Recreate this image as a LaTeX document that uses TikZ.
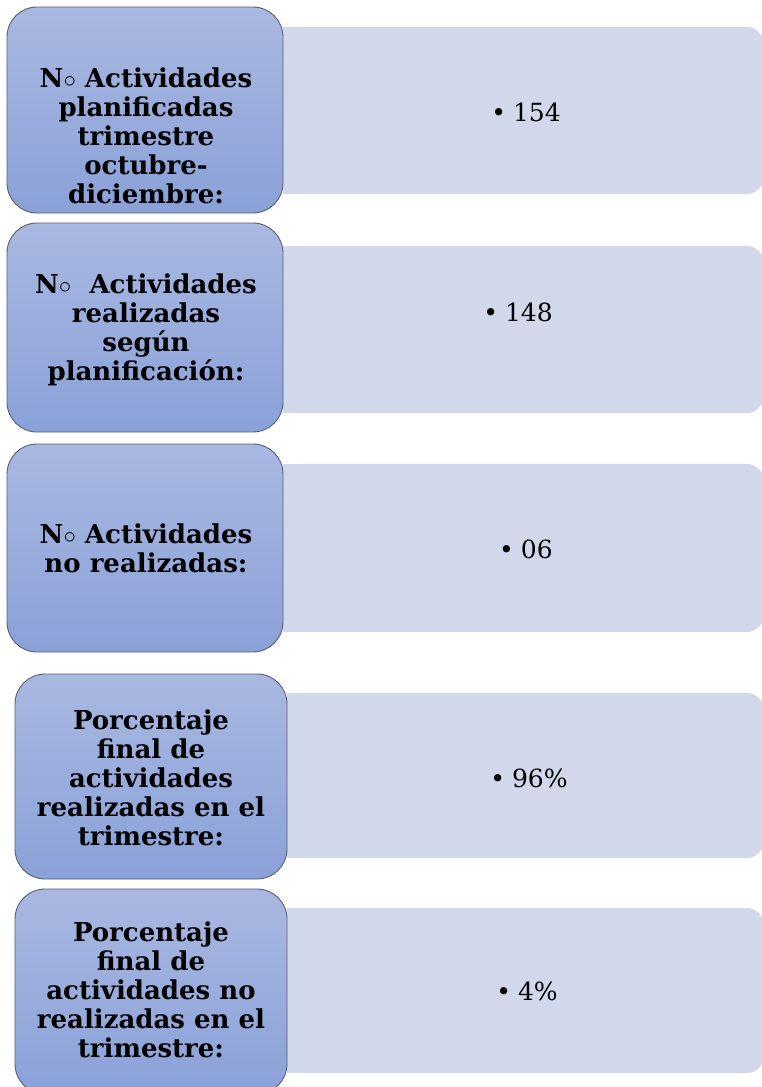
\documentclass[tikz,border=0pt]{standalone}
\usepackage{fontspec}
\setmainfont{DejaVu Serif}
\definecolor{boxtop}{HTML}{A9B8E1}
\definecolor{boxbot}{HTML}{8AA1D8}
\definecolor{valfill}{HTML}{D2D8EB}
\definecolor{boxline}{HTML}{5A5F6E}
\tikzset{
  lbox/.style={rectangle, rounded corners=30pt, top color=boxtop, bottom color=boxbot,
    draw=boxline, line width=0.9pt, inner sep=0pt},
  lbl/.style={align=center, inner sep=0pt, font=\fontsize{26}{29}\selectfont\bfseries},
  rarea/.style={rectangle, inner sep=0pt},
  val/.style={inner sep=0pt, anchor=base, font=\fontsize{25}{28}\selectfont},
  valbg/.style={fill=valfill}
}
\newcommand{\valtxt}[1]{\textbullet\hspace{7pt}#1}
\begin{document}
\begin{tikzpicture}[x=1pt,y=-1pt]
\useasboundingbox (0,0) rectangle (762,1087);
\clip (0,0) rectangle (762,1087);
% right value areas
\node[rarea, minimum width=481pt, minimum height=167pt] (r1) at (523.5,110.5) {};
\node[rarea, minimum width=481pt, minimum height=167pt] (r2) at (523.5,329.5) {};
\node[rarea, minimum width=481pt, minimum height=168pt] (r3) at (523.5,548) {};
\node[rarea, minimum width=477pt, minimum height=165pt] (r4) at (525.5,775.5) {};
\node[rarea, minimum width=477pt, minimum height=165pt] (r5) at (525.5,990.5) {};
\foreach \r in {r1,r2,r3,r4,r5}{
  \fill[valbg, rounded corners=18pt] (\r.north west) rectangle (\r.south east);
  \fill[valbg] (\r.north west) rectangle ([xshift=40pt]\r.south west);
}
% left label boxes
\node[lbox, minimum width=276pt, minimum height=206pt] (l1) at (145,110) {};
\node[lbox, minimum width=276pt, minimum height=209pt] (l2) at (145,327.5) {};
\node[lbox, minimum width=276pt, minimum height=208pt] (l3) at (145,548) {};
\node[lbox, minimum width=272pt, minimum height=205pt] (l4) at (151,776.5) {};
\node[lbox, minimum width=272pt, minimum height=205pt] (l5) at (151,991.5) {};
% labels
\node[lbl] (t1) at (146,136) {N$\circ$ Actividades\\planificadas\\trimestre\\octubre-\\diciembre:};
\node[lbl] (t2) at (146,330) {N$\circ$\ \ Actividades\\realizadas\\según\\planificación:};
\node[lbl] (t3) at (146,548) {N$\circ$ Actividades\\no realizadas:};
\node[lbl] (t4) at (151,778) {Porcentaje\\final de\\actividades\\realizadas en el\\trimestre:};
\node[lbl] (t5) at (151,990) {Porcentaje\\final de\\actividades no\\realizadas en el\\trimestre:};
% values
\node[val] (v1) at (526,121) {\valtxt{154}};
\node[val] (v2) at (518,321) {\valtxt{148}};
\node[val] (v3) at (526,558) {\valtxt{06}};
\node[val] (v4) at (529,787) {\valtxt{96\%}};
\node[val] (v5) at (527,1000) {\valtxt{4\%}};
\end{tikzpicture}
\end{document}
